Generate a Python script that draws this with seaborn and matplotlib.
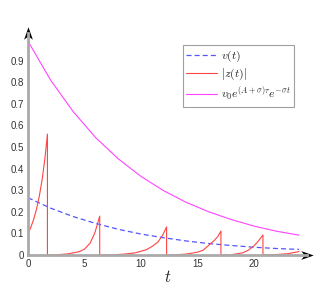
import numpy as np
import pandas as pd
import matplotlib
matplotlib.use("Agg")
import matplotlib.pyplot as plt
from matplotlib.path import Path
import seaborn as sns

# values
t_v = [0, 2, 4, 6, 8, 10, 12, 14, 16, 18, 20, 22, 24]
v_vals = [0.265, 0.217, 0.178, 0.146, 0.119, 0.097, 0.080, 0.065, 0.053, 0.044, 0.036, 0.030, 0.026]

t_bound = [0, 2, 4, 6, 8, 10, 12, 14, 16, 18, 20, 22, 24]
bound_vals = [0.99, 0.81, 0.664, 0.543, 0.445, 0.364, 0.298, 0.244, 0.200, 0.164, 0.134, 0.110, 0.092]

# |z(t)| : growth phases, each ending in a drop back to zero
t_z = [0, 0.25, 0.5, 0.75, 1.0, 1.25, 1.5, 1.72,
       1.72, 2.5, 3.5, 4.5, 5.0, 5.5, 5.9, 6.1, 6.35,
       6.35, 7.5, 8.5, 9.5, 10.5, 11.0, 11.5, 11.9, 12.27,
       12.27, 13.0, 14.0, 15.0, 15.5, 16.0, 16.5, 16.8, 17.08,
       17.08, 18.0, 19.0, 19.5, 20.0, 20.4, 20.8,
       20.8, 22.0, 23.0, 24.0]
z_vals = [0.10, 0.128, 0.165, 0.212, 0.272, 0.349, 0.448, 0.56,
          0.0, 0.001, 0.005, 0.015, 0.027, 0.055, 0.10, 0.135, 0.18,
          0.0, 0.001, 0.004, 0.010, 0.025, 0.040, 0.060, 0.090, 0.13,
          0.0, 0.001, 0.004, 0.013, 0.022, 0.045, 0.068, 0.085, 0.111,
          0.0, 0.001, 0.010, 0.022, 0.042, 0.065, 0.093,
          0.0, 0.002, 0.006, 0.016]

y_ticks = [0, 0.1, 0.2, 0.3, 0.4, 0.5, 0.6, 0.7, 0.8, 0.9]
y_labels = ["0", "0.1", "0.2", "0.3", "0.4", "0.5", "0.6", "0.7", "0.8", "0.9"]
x_ticks = [0, 5, 10, 15, 20]

sns.set_style("white")
plt.rcParams["mathtext.fontset"] = "cm"
plt.rcParams["font.family"] = ["Liberation Sans", "DejaVu Sans"]

fig = plt.figure(figsize=(3.31, 2.92), dpi=100)
ax = fig.add_axes([28 / 331, 37 / 292, 279 / 331, 222 / 292])

df_v = pd.DataFrame({"t": t_v, "y": v_vals})
df_b = pd.DataFrame({"t": t_bound, "y": bound_vals})
df_z = pd.DataFrame({"t": t_z, "y": z_vals})

sns.lineplot(data=df_v, x="t", y="y", ax=ax, color="#5555ff", lw=0.9,
             linestyle=(0, (4, 2.5)), sort=False, estimator=None, label=r"$v(t)$")
sns.lineplot(data=df_z, x="t", y="y", ax=ax, color="#ff4444", lw=0.8,
             sort=False, estimator=None, label=r"$|z(t)|$")
sns.lineplot(data=df_b, x="t", y="y", ax=ax, color="#ff44ff", lw=0.8,
             sort=False, estimator=None, label=r"$v_0e^{(A+\sigma)\tau}e^{-\sigma t}$")

ax.set_xlim(0, 24.7)
ax.set_ylim(0, 1.028)

# axis styling: grey spines with arrow heads
for side in ["top", "right"]:
    ax.spines[side].set_visible(False)
for side in ["left", "bottom"]:
    ax.spines[side].set_color("#aaaaaa")
    ax.spines[side].set_linewidth(2.0)

ax.set_yticks(y_ticks)
ax.set_yticklabels(y_labels)
ax.set_xticks(x_ticks)
ax.tick_params(axis="both", direction="in", length=3, width=0.6, color="#666666",
               labelsize=7, labelcolor="#333333", pad=3)

arrow = Path([(1, 0), (-1, 0.7), (-0.45, 0), (-1, -0.7), (1, 0)],
             [Path.MOVETO, Path.LINETO, Path.LINETO, Path.LINETO, Path.CLOSEPOLY])
arrow_up = Path([(0, 1), (0.7, -1), (0, -0.45), (-0.7, -1), (0, 1)],
                [Path.MOVETO, Path.LINETO, Path.LINETO, Path.LINETO, Path.CLOSEPOLY])
ax.plot(1, 0, marker=arrow, ms=9, mew=0, color="black", transform=ax.transAxes, clip_on=False)
ax.plot(0, 1, marker=arrow_up, ms=9, mew=0, color="black", transform=ax.transAxes, clip_on=False)

ax.set_xlabel(r"$t$", fontsize=12, labelpad=0)
ax.set_ylabel("")

leg = ax.legend(loc="upper right", bbox_to_anchor=(0.953, 0.946), fontsize=8.5,
                frameon=True, fancybox=False, handlelength=2.6, handletextpad=0.3,
                borderpad=0.3, labelspacing=0.25, borderaxespad=0)
leg.get_frame().set_edgecolor("#888888")
leg.get_frame().set_linewidth(0.8)

fig.savefig("out.png", dpi=100)
